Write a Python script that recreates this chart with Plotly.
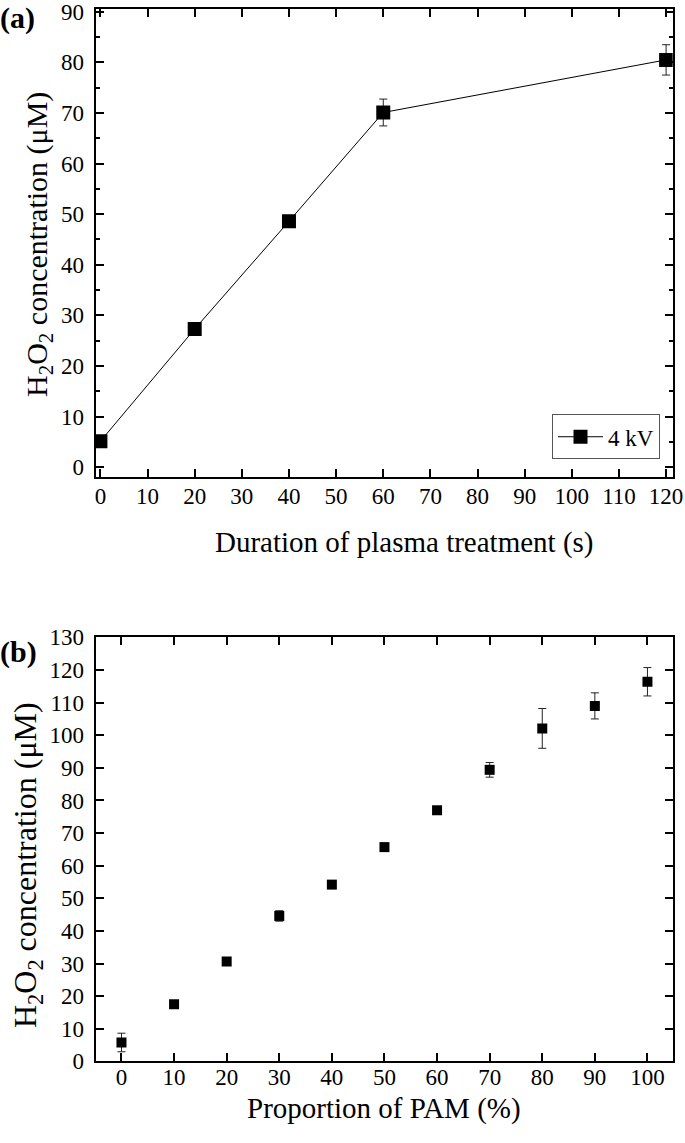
import plotly.graph_objects as go

# ---- Data: panel (a)
duration_s = [0, 20, 40, 60, 120]
h2o2_a = [5.1, 27.3, 48.6, 70.1, 80.5]
err_a = [0.5, 0.6, 0.6, 2.65, 3.0]
series_a_name = "4 kV"

# ---- Data: panel (b)
pam_pct = [0, 10, 20, 30, 40, 50, 60, 70, 80, 90, 100]
h2o2_b = [5.8, 17.5, 30.6, 44.6, 54.2, 65.7, 77.0, 89.4, 102.1, 109.0, 116.4]
err_b = [2.85, 0.8, 1.2, 1.6, 0.7, 1.2, 0.8, 2.25, 6.1, 4.0, 4.35]

xticks_a = list(range(0, 121, 10))
yticks_a = list(range(0, 91, 10))
xticks_b = list(range(0, 101, 10))
yticks_b = list(range(0, 131, 10))

xtitle_a = "Duration of plasma treatment (s)"
xtitle_b = "Proportion of PAM (%)"
ytitle = "H<sub>2</sub>O<sub>2</sub> concentration (μM)"

FONT = "Liberation Serif, Times New Roman, serif"
W, H = 685, 1143

def px_x(p):
    return p / W

def px_y(p):
    return 1 - p / H

fig = go.Figure()

fig.add_trace(go.Scatter(
    x=duration_s, y=h2o2_a, name=series_a_name, mode="lines+markers",
    line=dict(color="black", width=1),
    marker=dict(symbol="square", size=14, color="black"),
    error_y=dict(type="data", array=err_a, visible=True, color="#222222", thickness=1, width=4),
    xaxis="x", yaxis="y", showlegend=True,
))

fig.add_trace(go.Scatter(
    x=pam_pct, y=h2o2_b, name="PAM", mode="markers",
    marker=dict(symbol="square", size=10, color="black"),
    error_y=dict(type="data", array=err_b, visible=True, color="#222222", thickness=1, width=4),
    xaxis="x2", yaxis="y2", showlegend=False,
))

axis_common = dict(
    showline=True, linecolor="black", linewidth=2, mirror="allticks",
    ticks="inside", ticklen=8, tickwidth=1.5, tickcolor="black",
    showgrid=False, zeroline=False, automargin=False,
    ticklabeloverflow="allow",
    tickfont=dict(family=FONT, size=23, color="black"),
)

fig.update_layout(
    width=W, height=H,
    margin=dict(l=0, r=0, t=0, b=0, autoexpand=False),
    paper_bgcolor="white", plot_bgcolor="white",
    font=dict(family=FONT, color="black"),
    xaxis=dict(
        **axis_common, domain=[px_x(95.7), px_x(672.7)], anchor="y",
        range=[-1.0, 121.4], tickvals=xticks_a, ticklabelstandoff=-2,
    ),
    yaxis=dict(
        **axis_common, domain=[px_y(476.7), px_y(9.3)], anchor="x",
        range=[-1.9, 90.5], tickvals=yticks_a, ticklabelstandoff=5,
        minor=dict(dtick=5, tick0=0, ticks="inside", ticklen=4, tickwidth=1.5, tickcolor="black"),
    ),
    xaxis2=dict(
        **axis_common, domain=[px_x(95.7), px_x(672.7)], anchor="y2",
        range=[-4.9, 104.8], tickvals=xticks_b, ticklabelstandoff=-6,
    ),
    yaxis2=dict(
        **axis_common, domain=[px_y(1061.4), px_y(637.4)], anchor="x2",
        range=[0, 130], tickvals=yticks_b, ticklabelstandoff=5,
    ),
    legend=dict(
        x=px_x(660), y=px_y(459.3), xanchor="right", yanchor="bottom",
        bgcolor="white", bordercolor="#555555", borderwidth=1,
        font=dict(family=FONT, size=23, color="black"),
        itemsizing="trace", itemwidth=45,
    ),
    annotations=[
        dict(text="<b>(a)</b>", x=px_x(-2), y=px_y(18), xref="paper", yref="paper",
             xanchor="left", yanchor="middle", showarrow=False,
             font=dict(family=FONT, size=30, color="black")),
        dict(text="<b>(b)</b>", x=px_x(-2), y=px_y(652), xref="paper", yref="paper",
             xanchor="left", yanchor="middle", showarrow=False,
             font=dict(family=FONT, size=30, color="black")),
        dict(text=xtitle_a, x=px_x(404), y=px_y(542), xref="paper", yref="paper",
             xanchor="center", yanchor="middle", showarrow=False,
             font=dict(family=FONT, size=29, color="black")),
        dict(text=xtitle_b, x=px_x(384), y=px_y(1108), xref="paper", yref="paper",
             xanchor="center", yanchor="middle", showarrow=False,
             font=dict(family=FONT, size=29, color="black")),
        dict(text=ytitle, x=px_x(39), y=px_y(245), xref="paper", yref="paper",
             xanchor="center", yanchor="middle", showarrow=False, textangle=-90,
             font=dict(family=FONT, size=30, color="black")),
        dict(text=ytitle, x=px_x(27), y=px_y(865), xref="paper", yref="paper",
             xanchor="center", yanchor="middle", showarrow=False, textangle=-90,
             font=dict(family=FONT, size=32, color="black")),
    ],
)

fig.write_html(
    "out.html",
    config={"displayModeBar": False},
    post_script="document.body.style.margin='0';document.body.style.overflow='hidden';",
)
